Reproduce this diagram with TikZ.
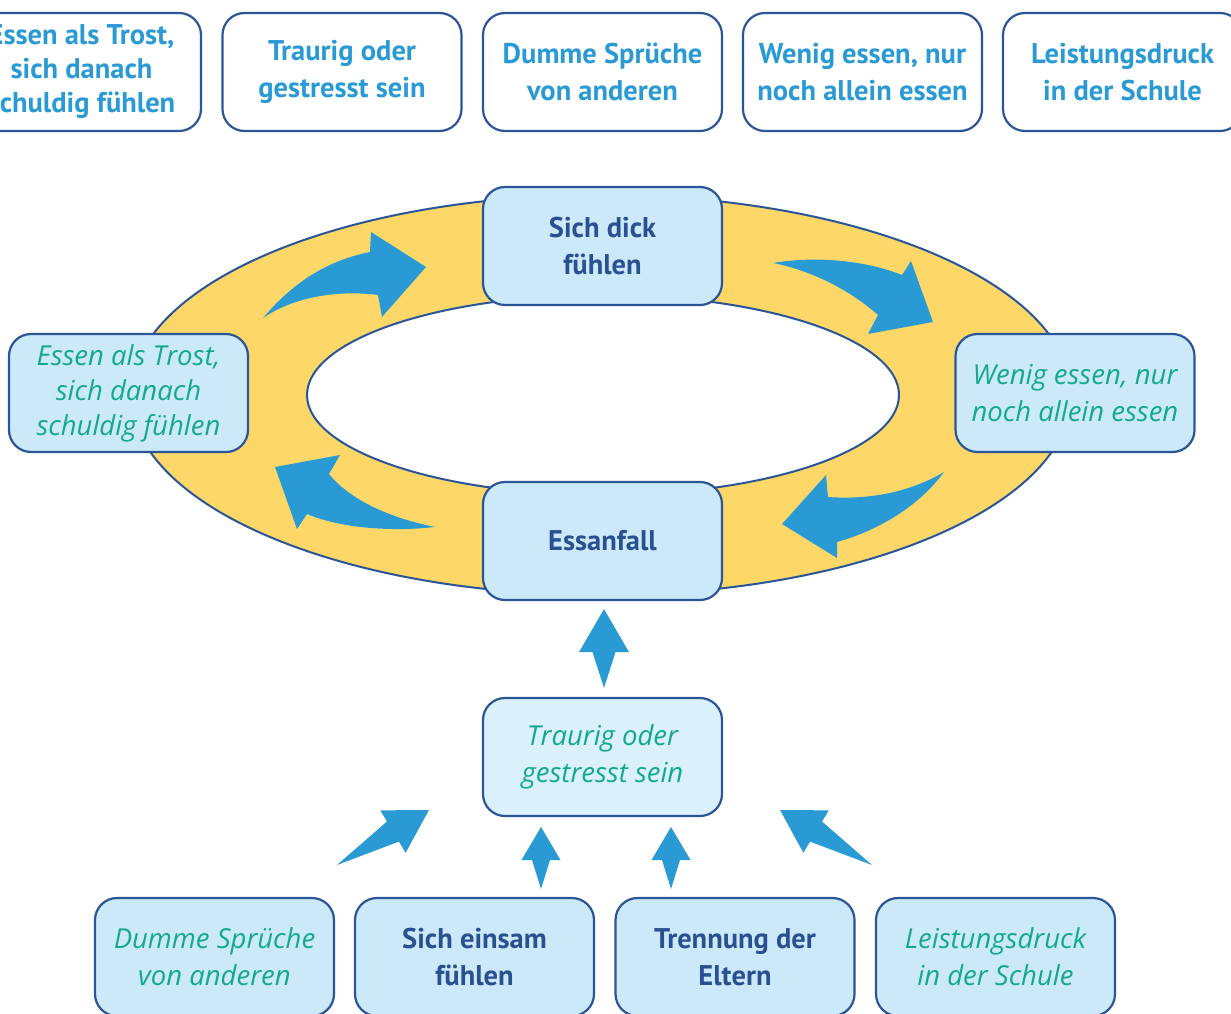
\documentclass[tikz,border=0pt]{standalone}
\usepackage{fontspec}
\setmainfont{PT Sans}
\newfontfamily\handschrift{Open Sans}
\usetikzlibrary{calc}

\definecolor{rahmenblau}{RGB}{43,85,151}
\definecolor{kastenblau}{RGB}{203,233,249}
\definecolor{kastenhell}{RGB}{218,240,251}
\definecolor{ringgelb}{RGB}{253,216,105}
\definecolor{pfeilblau}{RGB}{42,154,213}
\definecolor{textblau}{RGB}{43,80,145}
\definecolor{tuerkis}{RGB}{20,168,144}

\tikzset{
  kasten/.style={draw=rahmenblau, line width=2.2pt, rounded corners=22pt, fill=kastenblau,
    minimum width=239pt, minimum height=118pt, align=center, inner sep=0pt},
  fett/.style={font=\bfseries\fontsize{28.5}{37}\selectfont, text=textblau},
  kursiv/.style={font=\handschrift\itshape\fontsize{27.5}{37}\selectfont, text=tuerkis},
  kursivdrei/.style={font=\handschrift\itshape\fontsize{27.5}{35}\selectfont, text=tuerkis},
  oben/.style={kasten, fill=white, font=\bfseries\fontsize{28.5}{37}\selectfont, text=pfeilblau},
  obendrei/.style={oben, font=\bfseries\fontsize{28.5}{34}\selectfont},
  ringlinie/.style={draw=rahmenblau, line width=2pt}
}

% Blockpfeil: Ende, Spitze, Kopflaenge, halbe Kopfbreite, halbe Schaftbreite
\newcommand{\blockpfeil}[5]{%
  \path ($(#2)!#3pt!(#1)$) coordinate (hb);
  \fill[pfeilblau] (#2) -- ($(hb)!#4pt!90:(#2)$) -- ($(hb)!#5pt!90:(#2)$) -- (#1)
    -- ($(hb)!#5pt!-90:(#2)$) -- ($(hb)!#4pt!-90:(#2)$) -- cycle;
}

\begin{document}
\begin{tikzpicture}[x=1pt,y=-1pt]
  \useasboundingbox (0,0) rectangle (1231,1014);
  \clip (0,0) rectangle (1231,1014);

  % Ring
  \fill[ringgelb, even odd rule] (601,395) ellipse [x radius=470pt, y radius=200pt]
    (603,395) ellipse [x radius=296pt, y radius=100pt];
  \draw[ringlinie] (601,395) ellipse [x radius=470pt, y radius=200pt];
  \draw[ringlinie, fill=white] (603,395) ellipse [x radius=296pt, y radius=100pt];

  % obere Reihe
  \node[obendrei] (o1) at (81.5,72) {Essen als Trost,\\sich danach\\schuldig fühlen};
  \node[oben] (o2) at (342,72) {Traurig oder\\gestresst sein};
  \node[oben] (o3) at (602.5,72) {Dumme Sprüche\\von anderen};
  \node[oben] (o4) at (862.5,72) {Wenig essen, nur\\noch allein essen};
  \node[oben] (o5) at (1122.5,72) {Leistungsdruck\\in der Schule};

  % Kreislauf
  \node[kasten, fett] (dick) at (602.5,246) {Sich dick\\fühlen};
  \node[kasten, fett] (essanfall) at (602.5,541) {Essanfall};
  \node[kasten, kursivdrei] (trost) at (128.5,393) {Essen als Trost,\\sich danach\\schuldig fühlen};
  \node[kasten, kursiv] (wenig) at (1075,393) {Wenig essen, nur\\noch allein essen};

  % Ursachen
  \node[kasten, kursiv, fill=kastenhell] (traurig) at (602.5,757) {Traurig oder\\gestresst sein};
  \node[kasten, kursiv] (dumme) at (214.5,957) {Dumme Sprüche\\von anderen};
  \node[kasten, fett] (einsam) at (474.5,957) {Sich einsam\\fühlen};
  \node[kasten, fett] (trennung) at (735,957) {Trennung der\\Eltern};
  \node[kasten, kursiv] (druck) at (995.5,957) {Leistungsdruck\\in der Schule};

  % gebogene Pfeile im Ring
  \fill[pfeilblau] (263,318) .. controls (295,280) and (330,260) .. (370,252) -- (371,232)
    -- (426,267) -- (382,317) -- (378,295) .. controls (340,290) and (295,296) .. (263,318);
  \fill[pfeilblau] (773,263) .. controls (820,255) and (870,262) .. (902,275) -- (911,261)
    -- (933,322) -- (868,334) -- (878,315) .. controls (850,290) and (810,270) .. (773,263);
  \fill[pfeilblau] (944,472) .. controls (910,492) and (870,500) .. (828,497) -- (826,475)
    -- (782,524) -- (837,558) -- (837,542) .. controls (880,530) and (920,505) .. (944,472);
  \fill[pfeilblau] (435,527) .. controls (390,518) and (350,500) .. (329,474) -- (340,455)
    -- (275,467) -- (297,529) -- (307,514) .. controls (340,528) and (390,532) .. (435,527);

  % Pfeile zu den Kaesten
  \coordinate (m1) at ($(traurig.north)+(1.5,-9)$);
  \coordinate (m2) at ($(essanfall.south)+(1.5,8)$);
  \blockpfeil{m1}{m2}{43}{25}{11.5}
  \coordinate (d1) at (337,865);
  \coordinate (d2) at (429,810);
  \blockpfeil{d1}{d2}{42}{24.7}{11.7}
  \coordinate (e1) at (541,889);
  \coordinate (e2) at (541,827);
  \blockpfeil{e1}{e2}{33}{19.5}{9}
  \coordinate (t1) at (671,889);
  \coordinate (t2) at (671,827);
  \blockpfeil{t1}{t2}{33}{19.5}{9}
  \coordinate (l1) at (872,865);
  \coordinate (l2) at (780,810);
  \blockpfeil{l1}{l2}{42}{24.7}{11.7}
\end{tikzpicture}
\end{document}
